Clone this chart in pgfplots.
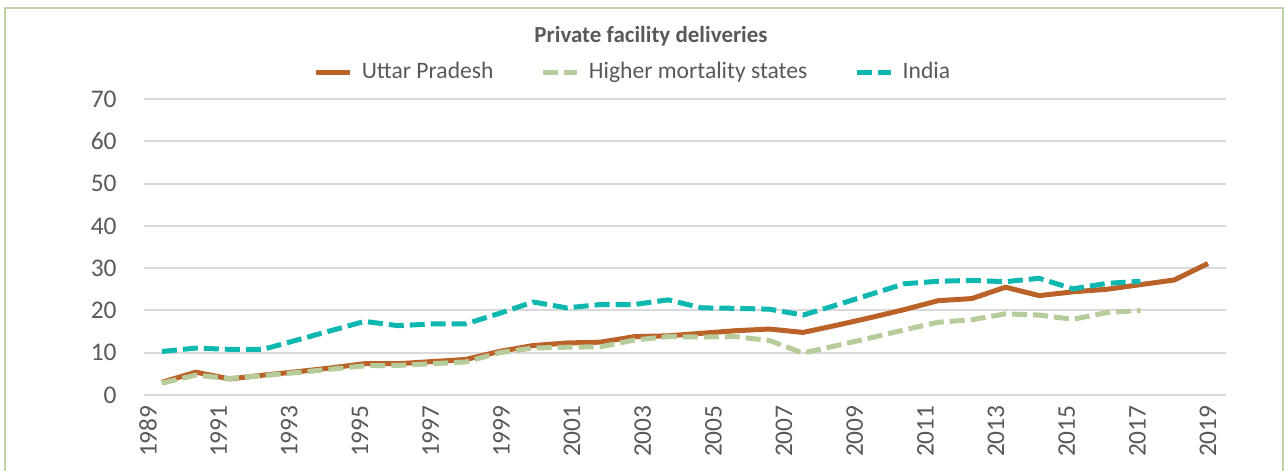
\documentclass[border=0pt]{standalone}
\usepackage{fontspec}
\setmainfont{Carlito}
\usepackage{pgfplots}
\pgfplotsset{compat=1.18}
\definecolor{upbrown}{RGB}{187,98,40}
\definecolor{hmsgreen}{RGB}{183,204,155}
\definecolor{indteal}{RGB}{14,183,175}
\definecolor{txtgray}{RGB}{89,89,89}
\definecolor{gridgray}{RGB}{217,217,217}
\definecolor{framegreen}{RGB}{190,210,165}
\begin{document}
\begin{tikzpicture}
\path[use as bounding box] (0,0) rectangle (642.5pt,-235.5pt);
\draw[framegreen, line width=1.2pt] (2.6pt,-4pt) rectangle (641.6pt,-250pt);
\begin{axis}[
  at={(72pt,-197.5pt)}, anchor=south west,
  scale only axis, width=541pt, height=148pt,
  xmin=-0.533, xmax=31.535, ymin=0, ymax=70,
  ytick={0,10,20,30,40,50,60,70},
  xtick={-0.415,1.680,3.774,5.869,7.963,10.058,12.153,14.247,16.342,18.436,20.531,22.625,24.720,26.814,28.909,31.003},
  xticklabels={1989,1991,1993,1995,1997,1999,2001,2003,2005,2007,2009,2011,2013,2015,2017,2019},
  axis line style={draw=none},
  major tick length=0pt,
  ymajorgrids, grid style={gridgray, line width=1pt},
  /pgf/number format/assume math mode=true,
  tick label style={font=\fontsize{12.7}{14}\selectfont, text=txtgray},
  xticklabel style={rotate=90, anchor=east, inner sep=0pt},
  xticklabel shift=5pt,
  yticklabel style={anchor=east, inner sep=0pt},
  yticklabel shift=13.5pt,
  title={Private facility deliveries},
  title style={at={(0.4686,1.216)}, anchor=center, yshift=-6.5pt, font=\bfseries\fontsize{11.5}{13}\selectfont, text=txtgray},
  legend columns=3,
  legend style={at={(0.1562,1.091)}, anchor=west, draw=none, inner sep=0pt,
    font=\fontsize{11.8}{13}\selectfont, text=txtgray,
    /tikz/every odd column/.append style={column sep=2.7pt},
    /tikz/every even column/.append style={column sep=21.5pt}},
  legend image code/.code={\draw[#1] (0pt,0pt) -- (17pt,0pt);},
  every axis plot/.append style={line width=2.5pt, line join=round},
]
\addplot[upbrown] coordinates {(0,3.0)(1,5.4)(2,3.8)(3,4.7)(4,5.5)(5,6.4)(6,7.4)(7,7.4)(8,7.9)(9,8.4)(10,10.3)(11,11.7)(12,12.3)(13,12.5)(14,13.8)(15,14.0)(16,14.6)(17,15.2)(18,15.6)(19,14.8)(20,16.5)(21,18.3)(22,20.2)(23,22.3)(24,22.8)(25,25.5)(26,23.5)(27,24.4)(28,25.0)(29,26.1)(30,27.2)(31,31.1)};
\addlegendentry{Uttar Pradesh}
\addplot[hmsgreen, dash pattern=on 7.5pt off 3pt] coordinates {(0,2.8)(1,4.7)(2,3.9)(3,4.6)(4,5.3)(5,6.1)(6,6.9)(7,7.0)(8,7.4)(9,7.8)(10,10.0)(11,11.1)(12,11.3)(13,11.4)(14,13.0)(15,13.8)(16,13.7)(17,13.8)(18,12.9)(19,9.9)(20,11.7)(21,13.5)(22,15.4)(23,17.2)(24,17.8)(25,19.2)(26,18.9)(27,17.9)(28,19.5)(29,20.0)};
\addlegendentry{Higher mortality states}
\addplot[indteal, dash pattern=on 7.5pt off 3pt] coordinates {(0,10.3)(1,11.1)(2,10.8)(3,10.8)(4,13.0)(5,15.2)(6,17.4)(7,16.4)(8,16.8)(9,16.8)(10,19.3)(11,22.0)(12,20.6)(13,21.4)(14,21.4)(15,22.5)(16,20.6)(17,20.5)(18,20.3)(19,18.9)(20,21.3)(21,23.8)(22,26.3)(23,26.9)(24,27.1)(25,26.8)(26,27.6)(27,25.1)(28,26.4)(29,26.9)};
\addlegendentry{India}
\end{axis}
\end{tikzpicture}
\end{document}
